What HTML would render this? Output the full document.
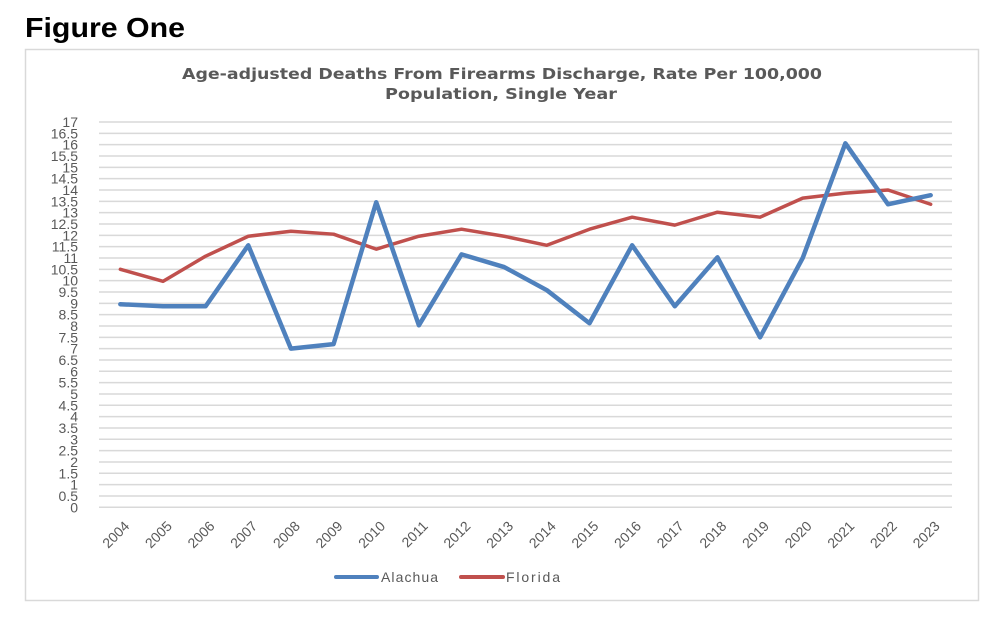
<!DOCTYPE html>
<html><head><meta charset="utf-8"><style>
body{margin:0;background:#fff;width:1004px;height:632px;overflow:hidden;font-family:"Liberation Sans",sans-serif}
</style></head><body>
<svg width="1004" height="632">
<text x="25" y="37" font-size="28" font-weight="bold" fill="#000" textLength="160" lengthAdjust="spacingAndGlyphs">Figure One</text>
<rect x="25.5" y="49.5" width="953" height="551" fill="#fff" stroke="#d9d9d9" stroke-width="1.5"/>
<text x="182" y="79" font-size="15" font-weight="bold" fill="#595959" textLength="640" lengthAdjust="spacingAndGlyphs" style="font-family:'DejaVu Sans',sans-serif">Age-adjusted Deaths From Firearms Discharge, Rate Per 100,000</text>
<text x="385" y="99" font-size="15" font-weight="bold" fill="#595959" textLength="232" lengthAdjust="spacingAndGlyphs" style="font-family:'DejaVu Sans',sans-serif">Population, Single Year</text>
<g id="grid"></g><g id="ylab"></g><g id="xlab"></g><g id="lines"></g>
<line x1="336" y1="577" x2="377" y2="577" stroke="#4f81bd" stroke-width="4" stroke-linecap="round"/>
<text x="381" y="582" font-size="14" fill="#595959" textLength="57">Alachua</text>
<line x1="461" y1="577" x2="503" y2="577" stroke="#c0504d" stroke-width="4" stroke-linecap="round"/>
<text x="506" y="582" font-size="14" fill="#595959" textLength="54">Florida</text>
</svg>
<script>
const years=["2004","2005","2006","2007","2008","2009","2010","2011","2012","2013","2014","2015","2016","2017","2018","2019","2020","2021","2022","2023"];
const alachua=[8.96,8.87,8.87,11.56,7.0,7.2,13.46,8.03,11.16,10.6,9.58,8.12,11.56,8.87,11.03,7.5,11.0,16.06,13.37,13.77];
const florida=[10.5,9.97,11.08,11.96,12.18,12.05,11.39,11.96,12.27,11.96,11.56,12.27,12.8,12.45,13.02,12.8,13.64,13.86,14.0,13.37];
const yTicks=[0,0.5,1,1.5,2,2.5,3,3.5,4,4.5,5,5.5,6,6.5,7,7.5,8,8.5,9,9.5,10,10.5,11,11.5,12,12.5,13,13.5,14,14.5,15,15.5,16,16.5,17];
const NS="http://www.w3.org/2000/svg";
const y0=507.3,y1=122,yMax=17,xL=99,xR=952;
const yS=v=>y0-(y0-y1)*v/yMax;
const step=(xR-xL)/years.length;
const xS=i=>xL+step*(i+0.5);
function mk(t,a,p){const e=document.createElementNS(NS,t);for(const k in a)e.setAttribute(k,a[k]);p.appendChild(e);return e;}
const grid=document.getElementById('grid'),yl=document.getElementById('ylab'),xl=document.getElementById('xlab'),ln=document.getElementById('lines');
yTicks.forEach(v=>{
 const l=mk('line',{x1:xL,x2:xR,y1:yS(v),y2:yS(v),stroke:'#d9d9d9','stroke-width':1.5},grid);
 
 
 const t=mk('text',{x:78,y:yS(v)+5,'text-anchor':'end','font-size':14,fill:'#595959'},yl);
 t.textContent=String(v);
 
 
});
years.forEach((yr,i)=>{
 const x=xS(i)+3,y=520;
 const t=mk('text',{x:x,y:y,'text-anchor':'end','font-size':14,fill:'#595959',transform:`rotate(-45 ${x} ${y})`,dy:'0.7em'},xl);
 t.textContent=yr;
 
 
});
function series(vals,color,name){
 const p=mk('polyline',{points:vals.map((v,i)=>xS(i)+','+yS(v)).join(' '),fill:'none',stroke:color,'stroke-width':name==='alachua-line'?4.5:3.5,'stroke-linejoin':'round','stroke-linecap':'round'},ln);
 
 
}
series(florida,'#c0504d','florida-line');
series(alachua,'#4f81bd','alachua-line');
</script>
</body></html>
